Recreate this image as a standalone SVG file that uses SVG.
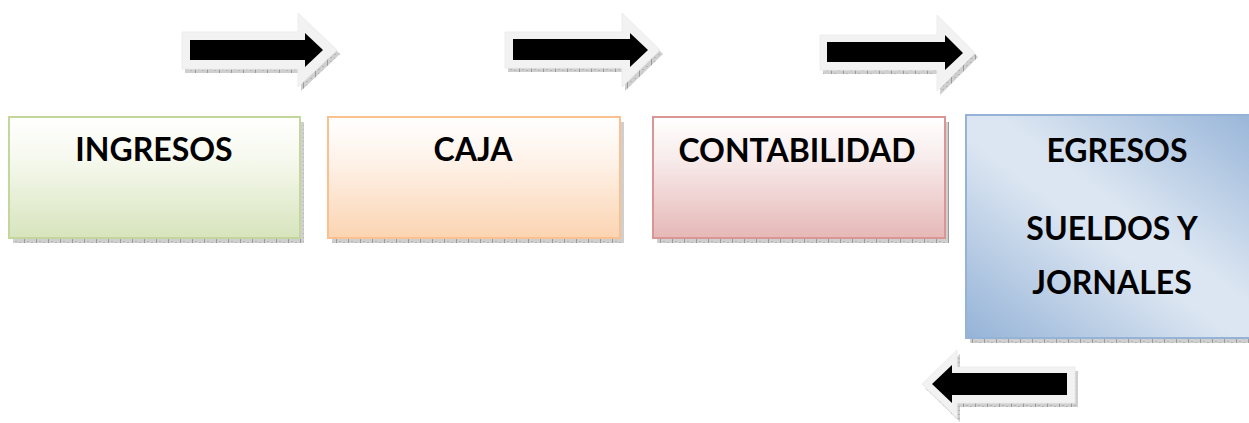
<svg xmlns="http://www.w3.org/2000/svg" width="1249" height="423" viewBox="0 0 1249 423">
<defs>
  <pattern id="hatch" width="12" height="4" patternUnits="userSpaceOnUse">
    <rect width="12" height="4" fill="#cfcfcf"/>
    <rect x="0" y="0" width="1" height="4" fill="#9a9a9a"/>
    <rect x="3" y="1" width="2" height="1" fill="#b4b4b4"/>
    <rect x="7" y="2" width="2" height="1" fill="#b4b4b4"/>
  </pattern>
  <linearGradient id="gGreen" x1="0" y1="0" x2="0" y2="1">
    <stop offset="0" stop-color="#ffffff"/>
    <stop offset="0.35" stop-color="#f6f9ee"/>
    <stop offset="1" stop-color="#d7e4bd"/>
  </linearGradient>
  <linearGradient id="gOrange" x1="0" y1="0" x2="0" y2="1">
    <stop offset="0" stop-color="#ffffff"/>
    <stop offset="0.35" stop-color="#fef3ea"/>
    <stop offset="1" stop-color="#fbd4b2"/>
  </linearGradient>
  <linearGradient id="gRed" x1="0" y1="0" x2="0" y2="1">
    <stop offset="0" stop-color="#ffffff"/>
    <stop offset="0.35" stop-color="#f8ebeb"/>
    <stop offset="1" stop-color="#e5b8b7"/>
  </linearGradient>
  <linearGradient id="gBlue" x1="0" y1="1" x2="1" y2="0">
    <stop offset="0" stop-color="#95b3d7"/>
    <stop offset="0.45" stop-color="#dce6f2"/>
    <stop offset="0.55" stop-color="#dce6f2"/>
    <stop offset="1" stop-color="#95b3d7"/>
  </linearGradient>
</defs>
<style>
  .lbl { font-family: Lato, "Open Sans", sans-serif; font-weight: 700; font-size: 32px; fill: #000; text-anchor: middle; }
  .shadow { fill: url(#hatch); }
  .light { fill: #f2f2f2; stroke: #ececec; stroke-width: 1; }
  .blk { fill: #000; }
</style>

<g id="connectors">
  <g id="arrow1">
    <polygon class="shadow" transform="translate(3,4)" points="182,32 298,32 298,13 337,50 298,87 298,69 182,69"/>
    <polygon class="light" points="182,32 298,32 298,13 337,50 298,87 298,69 182,69"/>
    <polygon class="blk" points="190,40 305,40 305,33 323,50 305,67 305,60 190,60"/>
  </g>
  <g id="arrow2">
    <polygon class="shadow" transform="translate(3,4)" points="505,32 622,32 622,13 660,50 622,87 622,68 505,68"/>
    <polygon class="light" points="505,32 622,32 622,13 660,50 622,87 622,68 505,68"/>
    <polygon class="blk" points="513,39 630,39 630,33 648,50 630,67 630,60 513,60"/>
  </g>
  <g id="arrow3">
    <polygon class="shadow" transform="translate(3,4)" points="820,35 937,35 937,15 975,53 937,91 937,70 820,70"/>
    <polygon class="light" points="820,35 937,35 937,15 975,53 937,91 937,70 820,70"/>
    <polygon class="blk" points="827,42 945,42 945,35 963,53 945,70 945,62 827,62"/>
  </g>
  <g id="arrow4">
    <polygon class="shadow" transform="translate(3,4)" points="1075,367 957,367 957,350 922,384 957,418 957,403 1075,403"/>
    <polygon class="light" points="1075,367 957,367 957,350 922,384 957,418 957,403 1075,403"/>
    <polygon class="blk" points="1067,373 952,373 952,365 932,384 952,403 952,395 1067,395"/>
  </g>
</g>

<g id="ingresos">
  <rect class="shadow" x="13" y="122" width="291" height="121"/>
  <rect x="9" y="117" width="291" height="121" fill="url(#gGreen)" stroke="#c3d69b" stroke-width="2"/>
  <text class="lbl" x="154" y="161">INGRESOS</text>
</g>

<g id="caja">
  <rect class="shadow" x="332" y="122" width="292" height="121"/>
  <rect x="328" y="117" width="292" height="121" fill="url(#gOrange)" stroke="#fac090" stroke-width="2"/>
  <text class="lbl" x="473" y="161">CAJA</text>
</g>

<g id="contabilidad">
  <rect class="shadow" x="657" y="122" width="292" height="121"/>
  <rect x="653" y="117" width="292" height="121" fill="url(#gRed)" stroke="#d99694" stroke-width="2"/>
  <text class="lbl" x="797" y="162">CONTABILIDAD</text>
</g>

<g id="egresos">
  <rect class="shadow" x="970" y="120" width="300" height="223"/>
  <rect x="966" y="115" width="300" height="223" fill="url(#gBlue)" stroke="#95b3d7" stroke-width="2"/>
  <text class="lbl" x="1117" y="162">EGRESOS</text>
  <text class="lbl" x="1112" y="240">SUELDOS Y</text>
  <text class="lbl" x="1112" y="294">JORNALES</text>
</g>
</svg>
